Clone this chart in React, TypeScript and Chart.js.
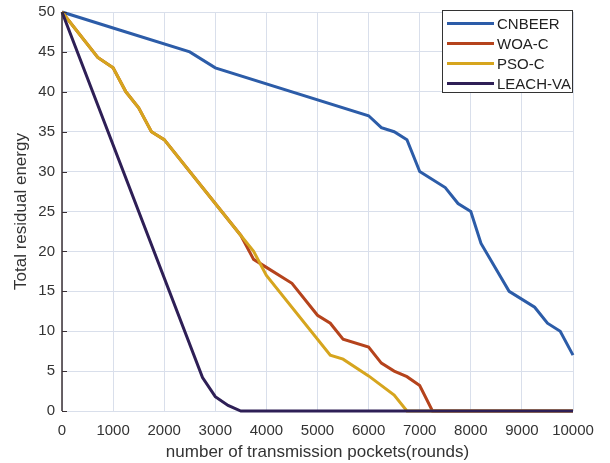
import React, { useEffect, useRef } from "react";
import { Chart, registerables } from "chart.js";

Chart.register(...registerables);

const seriesNames = ["CNBEER", "WOA-C", "PSO-C", "LEACH-VA"];
const seriesColors = ["#2c5ca8", "#b5431c", "#d6a51e", "#2e1f56"];

const cnbeerX = [0, 1000, 2500, 3000, 6000, 6250, 6500, 6750, 7000, 7500, 7750, 8000, 8200, 8750, 9250, 9500, 9750, 10000];
const cnbeerY = [50, 48, 45, 43, 37, 35.5, 35, 34, 30, 28, 26, 25, 21, 15, 13, 11, 10, 7];

const woaX = [0, 700, 1000, 1250, 1500, 1750, 2000, 3500, 3750, 4000, 4500, 5000, 5250, 5500, 6000, 6250, 6500, 6750, 7000, 7250, 10000];
const woaY = [50, 44.3, 43, 40, 38, 35, 34, 22, 19, 18, 16, 12, 11, 9, 8, 6, 5, 4.3, 3.2, 0, 0];

const psoX = [0, 700, 1000, 1250, 1500, 1750, 2000, 3500, 3750, 4000, 5250, 5500, 6000, 6500, 6750, 10000];
const psoY = [50, 44.3, 43, 40, 38, 35, 34, 22, 20, 17, 7, 6.5, 4.4, 2, 0, 0];

const leachX = [0, 2750, 3000, 3250, 3500, 10000];
const leachY = [50, 4.2, 1.8, 0.7, 0, 0];

const xTicks = [0, 1000, 2000, 3000, 4000, 5000, 6000, 7000, 8000, 9000, 10000];
const yTicks = [0, 5, 10, 15, 20, 25, 30, 35, 40, 45, 50];

const xTitle = "number of transmission pockets(rounds)";
const yTitle = "Total residual energy";

function pts(xs: number[], ys: number[]) {
  return xs.map((x, i) => ({ x, y: ys[i] }));
}

const legendPlugin = {
  id: "boxLegend",
  afterDraw(chart: any) {
    const ctx = chart.ctx;
    const area = chart.chartArea;
    const w = 131;
    const h = 83;
    const x0 = area.right - w;
    const y0 = area.top - 2;
    ctx.save();
    ctx.fillStyle = "#ffffff";
    ctx.fillRect(x0, y0, w, h);
    ctx.strokeStyle = "#333333";
    ctx.lineWidth = 1;
    ctx.strokeRect(x0 + 0.5, y0 + 0.5, w - 1, h - 1);
    ctx.font = "15px Arial, 'Liberation Sans', sans-serif";
    ctx.textBaseline = "middle";
    ctx.textAlign = "left";
    seriesNames.forEach((name, i) => {
      const y = y0 + 13.5 + i * 20;
      ctx.strokeStyle = seriesColors[i];
      ctx.lineWidth = 3;
      ctx.beginPath();
      ctx.moveTo(x0 + 5, y);
      ctx.lineTo(x0 + 52, y);
      ctx.stroke();
      ctx.fillStyle = "#222222";
      ctx.fillText(name, x0 + 55, y + 1);
    });
    ctx.restore();
  },
};

const axisLinePlugin = {
  id: "leftAxisLine",
  afterDatasetsDraw(chart: any) {
    const ctx = chart.ctx;
    const a = chart.chartArea;
    ctx.save();
    ctx.strokeStyle = "#3a3034";
    ctx.lineWidth = 1.5;
    ctx.beginPath();
    ctx.moveTo(a.left, a.top);
    ctx.lineTo(a.left, a.bottom);
    ctx.stroke();
    ctx.lineWidth = 1;
    const ys = chart.scales.y;
    yTicks.forEach((v) => {
      const py = Math.round(ys.getPixelForValue(v)) + 0.5;
      ctx.beginPath();
      ctx.moveTo(a.left, py);
      ctx.lineTo(a.left + 5, py);
      ctx.stroke();
    });
    ctx.restore();
  },
};

export default function App() {
  const ref = useRef<HTMLCanvasElement | null>(null);
  useEffect(() => {
    if (!ref.current) return;
    const allData = [pts(cnbeerX, cnbeerY), pts(woaX, woaY), pts(psoX, psoY), pts(leachX, leachY)];
    const orders = [3, 2, 1, 0];
    const chart = new Chart(ref.current, {
      type: "line",
      data: {
        datasets: seriesNames.map((name, i) => ({
          label: name,
          data: allData[i],
          borderColor: seriesColors[i],
          backgroundColor: seriesColors[i],
          borderWidth: 3,
          pointRadius: 0,
          tension: 0,
          fill: false,
          order: orders[i],
          clip: 3,
        })),
      },
      options: {
        animation: false,
        responsive: false,
        maintainAspectRatio: false,
        layout: { padding: { top: 12, right: 37, left: 0, bottom: 0 } },
        plugins: {
          legend: { display: false },
          tooltip: { enabled: false },
        },
        scales: {
          x: {
            type: "linear",
            min: 0,
            max: 10000,
            afterBuildTicks: (s: any) => {
              s.ticks = xTicks.map((v) => ({ value: v }));
            },
            afterFit: (s: any) => {
              s.height = 52;
              s.paddingLeft = 0;
              s.paddingRight = 0;
            },
            grid: { color: "#d9dfeb", lineWidth: 1, drawTicks: false },
            border: { display: false },
            ticks: {
              color: "#333333",
              font: { size: 15, family: "Arial, 'Liberation Sans', sans-serif" },
              padding: 11,
              maxRotation: 0,
              autoSkip: false,
              callback: (v: any) => String(v),
            },
            title: {
              display: true,
              text: xTitle,
              color: "#333333",
              font: { size: 17, family: "Arial, 'Liberation Sans', sans-serif" },
              padding: { top: 0, bottom: 0 },
            },
          },
          y: {
            type: "linear",
            min: 0,
            max: 50,
            afterBuildTicks: (s: any) => {
              s.ticks = yTicks.map((v) => ({ value: v }));
            },
            afterFit: (s: any) => {
              s.width = 62;
              s.paddingTop = 0;
              s.paddingBottom = 0;
            },
            grid: { color: "#d9dfeb", lineWidth: 1, drawTicks: false },
            border: { display: false },
            ticks: {
              color: "#333333",
              font: { size: 15, family: "Arial, 'Liberation Sans', sans-serif" },
              padding: 7,
              autoSkip: false,
              callback: (v: any) => String(v),
            },
            title: {
              display: true,
              text: yTitle,
              color: "#333333",
              font: { size: 17, family: "Arial, 'Liberation Sans', sans-serif" },
              padding: { top: 11, bottom: 4 },
            },
          },
        },
      },
      plugins: [axisLinePlugin, legendPlugin],
    });
    return () => chart.destroy();
  }, []);
  return (
    <div style={{ position: "fixed", left: 0, top: 0, width: 610, height: 463, background: "#ffffff" }}>
      <canvas ref={ref} width={610} height={463} style={{ width: 610, height: 463 }} />
    </div>
  );
}
